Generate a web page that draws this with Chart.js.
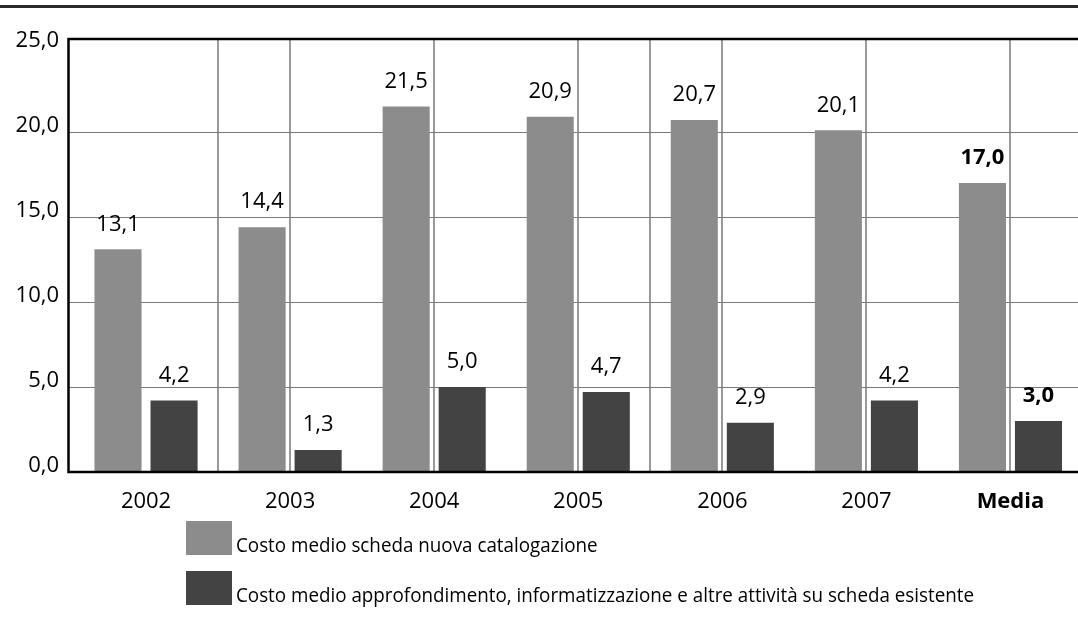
<!DOCTYPE html>
<html>
<head>
<meta charset="utf-8">
<script src="https://cdn.jsdelivr.net/npm/chart.js@4.4.0/dist/chart.umd.min.js"></script>
<style>
  html, body { margin: 0; padding: 0; background: #fff; overflow: hidden; width: 1078px; height: 627px; }
  #wrap { position: relative; width: 1078px; height: 627px; overflow: hidden; }
  #topRule { position: absolute; left: 0; top: 5px; width: 1078px; height: 3px; background: #2b2b2b; }
  #myChart { position: absolute; left: 0; top: 0; }
  .legRow { position: absolute; left: 186px; height: 34px; }
  .legRow .box { position: absolute; left: 0; top: 0; width: 46px; height: 34px; }
  .legRow .txt { position: absolute; left: 50px; top: 12px; line-height: 24px; white-space: nowrap;
                 font-family: "Open Sans", sans-serif; font-size: 20px; color: #000;
                 transform: scaleX(0.94); transform-origin: left center; }
</style>
</head>
<body>
<div id="wrap">
  <div id="topRule"></div>
  <canvas id="myChart" width="1084" height="627"></canvas>
  <div id="legend"></div>
</div>
<script>
// data
const categories = ['2002', '2003', '2004', '2005', '2006', '2007', 'Media'];
const nuovaCatalogazione = [13.1, 14.4, 21.5, 20.9, 20.7, 20.1, 17.0];
const approfondimento = [4.2, 1.3, 5.0, 4.7, 2.9, 4.2, 3.0];
const seriesNames = [
    'Costo medio scheda nuova catalogazione',
    'Costo medio approfondimento, informatizzazione e altre attività su scheda esistente'
];
const seriesColors = ['#8c8c8c', '#434343'];
const yTicks = [0, 5, 10, 15, 20, 25];
const yMax = 25.47;
// vertical grid lines, in category units
const vGridAt = [1, 1.5, 2.5, 3.5, 4, 4.5, 5.5, 6.5];

function fmt(v) {
    return v.toFixed(1).replace('.', ',');
}

/* value labels over the bars */
const valueLabels = {
    id: 'valueLabels',
    afterDatasetsDraw(chart) {
        const ctx = chart.ctx;
        ctx.save();
        ctx.fillStyle = '#000';
        ctx.textAlign = 'center';
        ctx.textBaseline = 'middle';
        chart.data.datasets.forEach((ds, di) => {
            chart.getDatasetMeta(di).data.forEach((bar, i) => {
                const bold = categories[i] === 'Media';
                ctx.font = (bold ? 'bold ' : '') + '22px "Open Sans"';
                ctx.fillText(fmt(ds.data[i]), bar.x, bar.y - 25);
            });
        });
        ctx.restore();
    }
};

/* horizontal grid + black frame */
const frame = {
    id: 'frame',
    beforeDatasetsDraw(chart) {
        const { ctx, chartArea, scales } = chart;
        const xl = chartArea.left - 5.5;
        ctx.save();
        ctx.strokeStyle = '#7a7a7a';
        ctx.lineWidth = 1;
        yTicks.forEach(v => {
            if (v === 0 || v === 25) return;
            const y = Math.round(scales.y.getPixelForValue(v)) + 0.5;
            ctx.beginPath();
            ctx.moveTo(xl, y);
            ctx.lineTo(chart.width, y);
            ctx.stroke();
        });
        ctx.restore();
    },
    afterDatasetsDraw(chart) {
        const { ctx, chartArea, scales } = chart;
        const xl = chartArea.left - 5.5;
        const y0 = scales.y.getPixelForValue(0);
        ctx.save();
        ctx.strokeStyle = '#000';
        ctx.lineWidth = 2.5;
        ctx.beginPath();
        ctx.moveTo(chart.width, chartArea.top);
        ctx.lineTo(xl, chartArea.top);
        ctx.lineTo(xl, y0);
        ctx.lineTo(chart.width, y0);
        ctx.stroke();
        ctx.restore();
    }
};

Chart.defaults.font.family = '"Open Sans", sans-serif';
Chart.defaults.color = '#000';

var ctx = document.getElementById('myChart').getContext('2d');

var myChart = new Chart(ctx, {
    type: 'bar',
    data: {
        labels: categories,
        datasets: [{
            label: seriesNames[0],
            data: nuovaCatalogazione,
            backgroundColor: seriesColors[0],
            xAxisID: 'x'
        }, {
            label: seriesNames[1],
            data: approfondimento,
            backgroundColor: seriesColors[1],
            xAxisID: 'x'
        }]
    },
    options: {
        responsive: false,
        animation: false,
        devicePixelRatio: 1,
        categoryPercentage: 0.778,
        barPercentage: 0.84,
        layout: {
            padding: { top: 39, right: 1.5, bottom: 107, left: 0 }
        },
        scales: {
            x: {
                type: 'category',
                position: 'bottom',
                grid: { display: false, drawTicks: false },
                border: { display: false },
                ticks: {
                    padding: 17,
                    maxRotation: 0,
                    font: (c) => ({
                        size: 22,
                        weight: categories[c.index] === 'Media' ? 'bold' : 'normal'
                    })
                },
                afterFit: (scale) => { scale.height = 48; }
            },
            xg: {
                type: 'linear',
                position: 'top',
                min: 0,
                max: categories.length,
                offset: false,
                ticks: { display: false },
                grid: { color: '#9a9a9a', lineWidth: 2, drawTicks: false, offset: false },
                border: { display: false },
                afterBuildTicks: (scale) => {
                    scale.ticks = vGridAt.map(v => ({ value: v }));
                },
                afterFit: (scale) => { scale.height = 0; }
            },
            y: {
                min: 0,
                max: yMax,
                grid: { display: false, drawTicks: false },
                border: { display: false },
                ticks: {
                    padding: 15,
                    labelOffset: -6,
                    font: { size: 22 },
                    callback: (v) => fmt(v)
                },
                afterBuildTicks: (scale) => {
                    scale.ticks = yTicks.map(v => ({ value: v }));
                },
                afterFit: (scale) => { scale.width = 74; }
            }
        },
        plugins: {
            legend: { display: false },
            tooltip: { enabled: false }
        }
    },
    plugins: [frame, valueLabels]
});

// legend rows
const legendEl = document.getElementById('legend');
const legendTops = [521, 571];
seriesNames.forEach((name, k) => {
    const row = document.createElement('div');
    row.className = 'legRow';
    row.style.top = legendTops[k] + 'px';
    row.innerHTML = '<div class="box" style="background:' + seriesColors[k] + '"></div>' +
        '<div class="txt">' + name + '</div>';
    legendEl.appendChild(row);
});
</script>
</body>
</html>
